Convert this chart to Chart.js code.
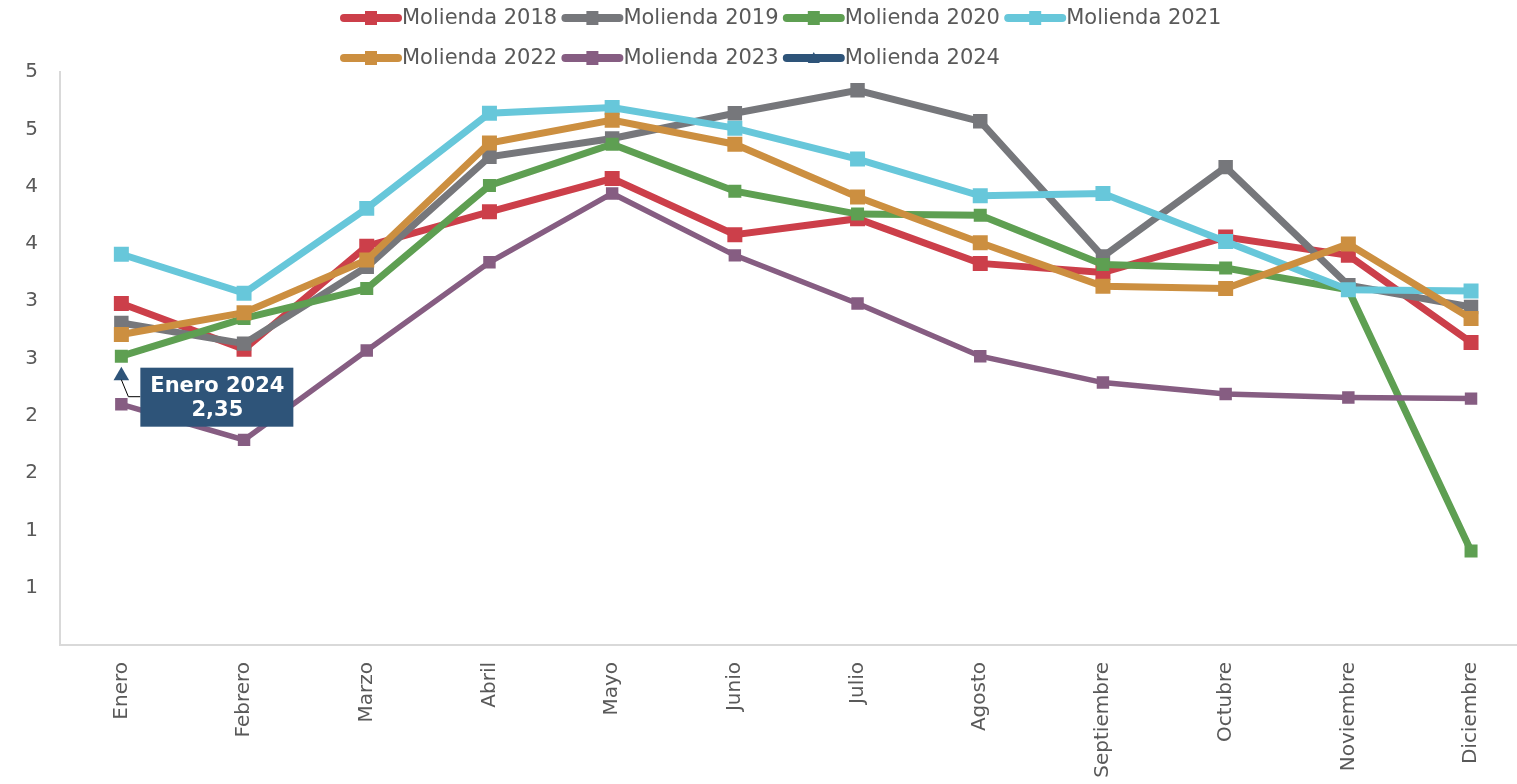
<!DOCTYPE html>
<html>
<head>
<meta charset="utf-8">
<title>Molienda</title>
<script src="https://cdn.jsdelivr.net/npm/chart.js@4.4.1/dist/chart.umd.min.js"></script>
<style>
  html, body { margin: 0; padding: 0; background: #fff; overflow: hidden; }
  #wrap { width: 1543px; height: 784px; position: relative; }
</style>
</head>
<body>
<div id="wrap"><canvas id="chart"></canvas></div>
<script>
// Datos
const meses = ["Enero", "Febrero", "Marzo", "Abril", "Mayo", "Junio", "Julio", "Agosto", "Septiembre", "Octubre", "Noviembre", "Diciembre"];

const molienda2018 = [2.98, 2.58, 3.48, 3.78, 4.07, 3.58, 3.72, 3.33, 3.25, 3.56, 3.40, 2.64];
const molienda2019 = [2.81, 2.63, 3.30, 4.26, 4.42, 4.64, 4.84, 4.57, 3.39, 4.17, 3.14, 2.95];
const molienda2020 = [2.52, 2.85, 3.11, 4.01, 4.37, 3.96, 3.76, 3.75, 3.32, 3.29, 3.10, 0.82];
const molienda2021 = [3.41, 3.07, 3.81, 4.64, 4.69, 4.51, 4.24, 3.92, 3.94, 3.52, 3.10, 3.09];
const molienda2022 = [2.71, 2.90, 3.36, 4.38, 4.58, 4.37, 3.91, 3.51, 3.13, 3.11, 3.50, 2.85];
const molienda2023 = [2.10, 1.79, 2.57, 3.34, 3.94, 3.40, 2.98, 2.52, 2.29, 2.19, 2.16, 2.15];
const molienda2024 = [2.35];

const series = [
  { label: "Molienda 2018", data: molienda2018, color: "#CC3F4A", width: 7, radius: 10.6, style: "rect" },
  { label: "Molienda 2019", data: molienda2019, color: "#76777B", width: 7, radius: 10.2, style: "rect" },
  { label: "Molienda 2020", data: molienda2020, color: "#5E9F52", width: 7, radius: 9.2, style: "rect" },
  { label: "Molienda 2021", data: molienda2021, color: "#67C7DA", width: 7, radius: 10.6, style: "rect" },
  { label: "Molienda 2022", data: molienda2022, color: "#CC8F40", width: 7, radius: 10.6, style: "rect" },
  { label: "Molienda 2023", data: molienda2023, color: "#865D82", width: 5.5, radius: 8.8, style: "rect" },
  { label: "Molienda 2024", data: molienda2024, color: "#2E5479", width: 7, radius: 9, style: "triangle" }
];

Chart.defaults.font.family = "'DejaVu Sans', Verdana, sans-serif";
Chart.defaults.color = "#595959";

// Leyenda tipo Excel en dos filas (línea + marcador)
const leyendaExcel = {
  id: "leyendaExcel",
  afterDraw(chart) {
    const ctx = chart.ctx;
    ctx.save();
    ctx.font = "21px 'DejaVu Sans', Verdana, sans-serif";
    ctx.textBaseline = "middle";
    ctx.textAlign = "left";
    chart.data.datasets.forEach((ds, i) => {
      const col = i % 4, row = Math.floor(i / 4);
      const x0 = 340 + col * 221.4;
      const y = 18 + row * 40;
      ctx.strokeStyle = ds.borderColor;
      ctx.lineWidth = 8;
      ctx.lineCap = "round";
      ctx.beginPath();
      ctx.moveTo(x0 + 4, y);
      ctx.lineTo(x0 + 58, y);
      ctx.stroke();
      ctx.fillStyle = ds.borderColor;
      if (ds.pointStyle === "triangle") {
        ctx.beginPath();
        ctx.moveTo(x0 + 31, y - 6);
        ctx.lineTo(x0 + 37, y + 5);
        ctx.lineTo(x0 + 25, y + 5);
        ctx.closePath();
        ctx.fill();
      } else {
        ctx.fillRect(x0 + 25, y - 7, 12, 14);
      }
      ctx.fillStyle = "#595959";
      ctx.fillText(ds.label, x0 + 62, y + 1);
    });
    ctx.restore();
  }
};

// Etiqueta "Enero 2024"
const etiqueta2024 = {
  id: "etiqueta2024",
  afterDatasetsDraw(chart) {
    const idx = chart.data.datasets.length - 1;
    const meta = chart.getDatasetMeta(idx);
    const pt = meta.data[0];
    if (!pt) return;
    const valor = chart.data.datasets[idx].data[0];
    const ctx = chart.ctx;
    const x = pt.x, y = pt.y;
    ctx.save();
    ctx.strokeStyle = "#000";
    ctx.lineWidth = 1;
    ctx.beginPath();
    ctx.moveTo(x, y + 4);
    ctx.lineTo(x + 7, y + 21);
    ctx.lineTo(x + 19, y + 21);
    ctx.stroke();
    ctx.fillStyle = "#2E5479";
    ctx.fillRect(x + 19, y - 8, 153, 59);
    ctx.fillStyle = "#fff";
    ctx.font = "bold 21px 'DejaVu Sans', Verdana, sans-serif";
    ctx.textAlign = "center";
    ctx.textBaseline = "middle";
    ctx.fillText(meses[0] + " 2024", x + 96, y + 11);
    ctx.fillText(valor.toFixed(2).replace(".", ","), x + 96, y + 35);
    ctx.restore();
  }
};

const datasets = series.map((s, i) => ({
  label: s.label,
  data: s.data,
  borderColor: s.color,
  backgroundColor: s.color,
  borderWidth: s.width,
  pointStyle: s.style,
  pointRadius: s.radius,
  pointHoverRadius: s.radius,
  pointBorderWidth: 0,
  pointBackgroundColor: s.color,
  tension: 0,
  order: series.length - i
}));

new Chart(document.getElementById("chart"), {
  type: "line",
  data: { labels: meses, datasets: datasets },
  options: {
    responsive: true,
    maintainAspectRatio: false,
    animation: false,
    layout: { padding: { top: 72, left: 0, right: 0, bottom: 0 } },
    plugins: {
      legend: { display: false },
      tooltip: { enabled: false }
    },
    scales: {
      x: {
        offset: true,
        grid: { display: false, drawTicks: false },
        border: { color: "#d9d9d9", width: 2 },
        ticks: {
          autoSkip: false,
          minRotation: 90,
          maxRotation: 90,
          padding: 17,
          font: { size: 20 },
          color: "#595959"
        },
        afterFit: (s) => { s.height = 139; }
      },
      y: {
        min: 0,
        max: 5,
        grid: { display: false, drawTicks: false },
        border: { color: "#d9d9d9", width: 2 },
        ticks: {
          stepSize: 0.5,
          padding: 22,
          font: { size: 20 },
          color: "#595959",
          callback: (v) => v === 0 ? "" : Math.round(v)
        },
        afterFit: (s) => { s.width = 60; }
      }
    }
  },
  plugins: [leyendaExcel, etiqueta2024]
});
</script>
</body>
</html>
